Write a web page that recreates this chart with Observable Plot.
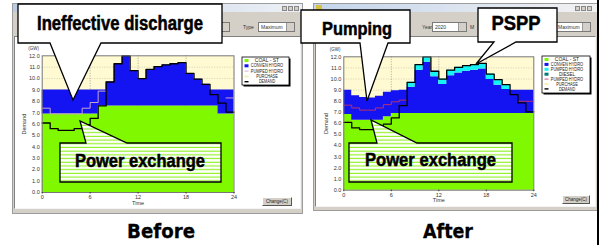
<!DOCTYPE html>
<html><head><meta charset="utf-8">
<script src="https://cdn.jsdelivr.net/npm/d3@7"></script>
<script src="https://cdn.jsdelivr.net/npm/@observablehq/plot@0.6"></script>
<style>
html,body{margin:0;padding:0;background:#fff;}
#page{position:relative;width:599px;height:245px;overflow:hidden;font-family:"Liberation Sans",Arial,sans-serif;}
.abs{position:absolute;box-sizing:border-box;}
.win{background:#d4d0c8;border:1px solid #9c9c9c;}
.panel{background:#fff;border-top:1px solid #808080;border-left:1px solid #808080;border-right:1px solid #f4f4f4;border-bottom:1px solid #f4f4f4;}
.combo{background:#fff;border:1px solid #7a7a7a;font-size:5px;line-height:8px;padding-left:2px;color:#333;}
.combo::after{content:"";position:absolute;right:0;top:0;width:7px;height:8px;background:#d4d0c8;border-left:1px solid #999;}
.lbl{font-size:5px;color:#333;}
.btn{background:#d4d0c8;border:1px solid #fff;border-right-color:#555;border-bottom-color:#555;font-size:4.5px;line-height:7px;text-align:center;color:#222;}
.tbtn{width:5px;height:5px;background:#d4d0c8;border:1px solid #888;}
</style>
</head><body>
<div id="page"></div>
<script>
// ---------- data (hourly values, hour 0..23) ----------
const hours = d3.range(0, 24);
const demand = [6.1, 5.6, 5.45, 5.45, 5.6, 5.95, 6.5, 7.6, 9.7, 11.3, 12.0, 10.7, 10.0, 10.8, 11.05, 11.2, 11.3, 11.4, 10.45, 9.95, 9.5, 8.6, 7.85, 7.05];
// Before
const beforeCoal = [6.9, 6.9, 6.9, 6.9, 6.9, 6.9, 6.9, 7.6, 7.6, 7.6, 7.6, 7.6, 7.6, 7.6, 7.6, 7.6, 7.6, 7.6, 7.6, 7.6, 7.6, 7.6, 6.9, 6.9];
const beforeHydroTop = [9.0, 9.0, 9.0, 9.0, 9.0, 9.0, 9.0, 9.0, 9.7, 11.3, 12.0, 10.7, 10.0, 10.8, 11.05, 11.2, 11.3, 11.4, 10.45, 9.95, 9.5, 9.0, 9.0, 9.0];
const beforePumpLine = [7.4, 6.9, 6.9, 6.9, 6.9, 7.4, 7.9, 8.9, 8.9, null, null, null, null, null, null, null, null, null, null, null, null, null, null, 8.3];
// After
const afterCoal = [6.8, 6.3, 6.3, 6.3, 6.3, 6.6, 6.9, 6.9, 6.9, 6.9, 6.9, 6.9, 6.9, 6.9, 6.9, 6.9, 6.9, 6.9, 6.9, 6.9, 6.9, 6.9, 6.9, 6.9];
const afterHydroTop = [9.0, 8.5, 8.35, 8.3, 8.45, 8.8, 8.95, 9.0, 9.25, 10.8, 11.5, 10.2, 9.5, 10.3, 10.55, 10.7, 10.8, 10.9, 9.95, 9.45, 9.05, 9.0, 9.0, 9.0];
const afterPsppTop = [9.0, 8.5, 8.35, 8.3, 8.45, 8.8, 8.95, 9.0, 9.7, 11.3, 12.0, 10.7, 10.0, 10.8, 11.05, 11.2, 11.3, 11.4, 10.45, 9.95, 9.5, 9.0, 9.0, 9.0];
const afterPumpLine = [7.65, 7.4, 7.2, 7.2, 7.4, 7.7, 7.95, 8.1, 8.1, null, null, null, null, null, null, null, null, null, null, null, null, null, 8.0, 8.0];
// axis ticks
const xTicks = [0, 6, 12, 18, 24];
const yTicks = d3.range(0, 13);
const legendBefore = ["COAL - ST", "CONVEN HYDRO", "PUMPED HYDRO", "PURCHASE", "DEMAND"];
const legendAfter = ["COAL - ST", "CONVEN HYDRO", "PUMPED HYDRO", "DIESEL", "PUMPED HYDRO", "PURCHASE", "DEMAND"];

const C = {green: "#80f800", blue: "#1414f2", cyan: "#14f4f4", teal: "#007878", cream: "#fffad2", pink: "#c9a3c9", magenta: "#b8306e"};

function rows(series) {
  return d3.range(0, 25).map(t => {
    const h = Math.min(t, 23);
    const r = {t};
    for (const k in series) r[k] = series[k][h];
    return r;
  });
}

function makeChart(o) {
  const data = rows(o.series);
  const marks = [
    Plot.frame({fill: C.cream, stroke: null}),
    Plot.gridX([6, 12, 18], {stroke: "#888", strokeOpacity: 0.7, strokeDasharray: "1,1.5"}),
    Plot.gridY(d3.range(1, 12), {stroke: "#888", strokeOpacity: 0.35, strokeDasharray: "1,1.5"}),
    Plot.areaY(data, {x: "t", y1: 0, y2: "coal", fill: C.green, curve: "step-after"}),
    Plot.areaY(data, {x: "t", y1: "coal", y2: "hydro", fill: C.blue, curve: "step-after"})
  ];
  if (o.series.pspp) marks.push(Plot.areaY(data, {x: "t", y1: "hydro", y2: "pspp", fill: C.cyan, curve: "step-after"}));
  marks.push(
    Plot.lineY(data, {x: "t", y: "pump", stroke: o.pumpColor, strokeWidth: 1, curve: "step-after"}),
    Plot.lineY(data, {x: "t", y: "demand", stroke: "#000", strokeWidth: 1.3, curve: "step-after"}),
    Plot.frame({stroke: "#777"}),
    Plot.axisX({ticks: xTicks, tickSize: 1.5, tickPadding: 1.5, label: "Time", labelAnchor: "center", labelArrow: "none", labelOffset: 12}),
    Plot.axisY({ticks: yTicks, tickFormat: d => d.toFixed(1), tickSize: 0, tickPadding: 2.5, label: "Demand", labelAnchor: "center", labelArrow: "none", labelOffset: 20}),
    Plot.text(["(GW)"], {frameAnchor: "top-left", dx: -14, dy: -9, fontSize: 4.5})
  );
  return Plot.plot({
    width: o.width, height: o.height,
    marginLeft: o.ml, marginRight: o.mr, marginTop: o.mt, marginBottom: o.mb,
    style: {background: "transparent", fontFamily: "'Liberation Sans', Arial, sans-serif", fontSize: "5.5px", color: "#333", overflow: "visible"},
    x: {domain: [0, 24]},
    y: {domain: [0, 12]},
    marks
  });
}

const page = document.getElementById("page");
function div(cls, x, y, w, h, html, extra) {
  const d = document.createElement("div");
  d.className = "abs " + (cls || "");
  Object.assign(d.style, {left: x + "px", top: y + "px", width: w + "px", height: h + "px"}, extra || {});
  if (html) d.innerHTML = html;
  page.appendChild(d);
  return d;
}

// ---------- window chrome: Before ----------
div("win", 12, 3, 291, 211);
div("", 13, 4, 289, 8, "", {background: "linear-gradient(to right,#b9cbe4,#eef1f6)"});
div("tbtn", 282, 5.5, 5, 5); div("tbtn", 288, 5.5, 5, 5); div("tbtn", 294, 5.5, 5, 5);
div("combo", 192, 22, 38, 10, "");
div("lbl", 243, 24, 14, 8, "Type");
div("combo", 258, 22, 37, 10, "Maximum");
div("panel", 14, 36, 287, 173);
div("btn", 262, 197, 30, 9, "Change(C)");

// ---------- window chrome: After ----------
div("win", 313, 3, 287, 208);
div("", 314, 4, 285, 8, "<span style='font-size:4.5px;line-height:8px;margin-left:10px;color:#223'>Daily Load Curve</span>", {background: "linear-gradient(to right,#c4d5ec,#f2f2f2)"});
div("", 316, 5, 6, 6, "", {background: "#d8c040"});
div("tbtn", 575, 5.5, 5, 5); div("tbtn", 581, 5.5, 5, 5); div("tbtn", 587, 5.5, 5, 5);
div("lbl", 422, 24, 12, 8, "Year");
div("combo", 432, 22, 35, 10, "2020");
div("lbl", 470, 24, 8, 8, "M");
div("combo", 555, 22, 36, 10, "Maximum");
div("panel", 315, 36, 281, 171);
div("btn", 562, 195, 28, 9, "Change(C)");
div("", 597, 0, 2, 245, "", {background: "#000"});

// ---------- charts ----------
const left = makeChart({
  width: 290, height: 174, ml: 29.7, mr: 68.5, mt: 19.3, mb: 18,
  series: {coal: beforeCoal, hydro: beforeHydroTop, pump: beforePumpLine, demand},
  pumpColor: C.pink
});
const lw = div("", 12, 36, 290, 174); lw.appendChild(left);
const right = makeChart({
  width: 286, height: 174, ml: 30.3, mr: 65.7, mt: 20.3, mb: 20.3,
  series: {coal: afterCoal, hydro: afterHydroTop, pspp: afterPsppTop, pump: afterPumpLine, demand},
  pumpColor: C.magenta
});
const rw = div("", 313, 36, 286, 174); rw.appendChild(right);

// ---------- overlay: legends, callouts, captions ----------
const NS = "http://www.w3.org/2000/svg";
const ov = document.createElementNS(NS, "svg");
ov.setAttribute("width", 599); ov.setAttribute("height", 245);
Object.assign(ov.style, {position: "absolute", left: "0px", top: "0px", overflow: "visible"});
page.appendChild(ov);
function el(tag, attrs, parent) {
  const e = document.createElementNS(NS, tag);
  for (const k in attrs) e.setAttribute(k, attrs[k]);
  (parent || ov).appendChild(e);
  return e;
}
const defs = el("defs", {});
const pat = el("pattern", {id: "hatch", width: 4, height: 3.7, patternUnits: "userSpaceOnUse"}, defs);
el("rect", {width: 4, height: 3.7, fill: "#fff"}, pat);
el("rect", {y: 2.6, width: 4, height: 1, fill: "#7ff000"}, pat);

function legend(x, y, w, h, labels, kinds, y0, dy, cx) {
  el("rect", {x: x + 1.5, y: y + 1.5, width: w, height: h, fill: "#000"});
  el("rect", {x, y, width: w, height: h, fill: "#fff", stroke: "#000", "stroke-width": 0.8});
  labels.forEach((lab, i) => {
    const yy = y0 + i * dy;
    const k = kinds[i];
    if (k.type === "sq") el("rect", {x: x + 2.5, y: yy - 1.5, width: 4, height: 3, fill: k.color});
    else el("line", {x1: x + 2.5, x2: x + 6.5, y1: yy, y2: yy, stroke: k.color, "stroke-width": k.w || 0.8});
    const t = el("text", {x: cx, y: yy + 1.6, "text-anchor": "middle", "font-size": 4.6, fill: "#222", "font-family": "Liberation Sans, Arial, sans-serif", "textLength": Math.min(lab.length * 2.7, w - 10), lengthAdjust: "spacingAndGlyphs"});
    t.textContent = lab;
  });
}
legend(242, 57, 47, 28, legendBefore,
  [{type: "sq", color: C.green}, {type: "sq", color: C.blue}, {type: "line", color: C.pink}, {type: "line", color: "#f4f0b0", w: 2}, {type: "line", color: "#000", w: 1.4}],
  60.5, 5.3, 267);
legend(542, 56, 48, 37, legendAfter,
  [{type: "sq", color: C.green}, {type: "sq", color: C.blue}, {type: "sq", color: C.cyan}, {type: "sq", color: C.teal}, {type: "line", color: C.magenta}, {type: "line", color: "#f4f0b0", w: 2}, {type: "line", color: "#000", w: 1.4}],
  59.5, 4.9, 567);

// callouts
function calloutDown(x0, y0, x1, y1, bl, br, tx, ty, fill) {
  el("path", {d: `M${x0},${y0}H${x1}V${y1}H${br}L${tx},${ty}L${bl},${y1}H${x0}Z`, fill: fill || "#fff", stroke: "#000", "stroke-width": 1.3, "stroke-linejoin": "miter"});
}
function calloutUp(x0, y0, x1, y1, bl, br, tx, ty, fill) {
  el("path", {d: `M${x0},${y0}H${bl}L${tx},${ty}L${br},${y0}H${x1}V${y1}H${x0}Z`, fill: fill || "#fff", stroke: "#000", "stroke-width": 1.3, "stroke-linejoin": "miter"});
}
function label(txt, cx, by, fs, len, family, sw) {
  const t = el("text", {x: cx, y: by, "text-anchor": "middle", "font-size": fs, "font-weight": "bold", fill: "#000",
    stroke: "#000", "stroke-width": sw == null ? 0.5 : sw,
    "font-family": family || "Liberation Sans, Arial, sans-serif", textLength: len, lengthAdjust: "spacingAndGlyphs"});
  t.textContent = txt;
}
calloutDown(18, 4, 222, 43, 50, 101, 73, 100);
label("Ineffective discharge", 120, 29.5, 19.5, 166);
calloutUp(60, 143, 221, 182, 86, 127, 80, 121, "url(#hatch)");
label("Power exchange", 140, 167, 19, 130);
calloutDown(301, 10, 410, 43, 360, 388, 367, 101);
label("Pumping", 357, 35, 18.5, 70);
calloutDown(478, 8, 557, 42, 494, 516, 476, 64);
label("PSPP", 516, 30, 21, 49);
calloutUp(349, 143, 512, 182, 377, 417, 371, 120, "url(#hatch)");
label("Power exchange", 430.5, 165.5, 19, 131);

label("Before", 161, 237.5, 20, 68, "DejaVu Sans, Verdana, sans-serif", 0.3);
label("After", 448, 237.5, 20, 50, "DejaVu Sans, Verdana, sans-serif", 0.3);
</script>
</body></html>
